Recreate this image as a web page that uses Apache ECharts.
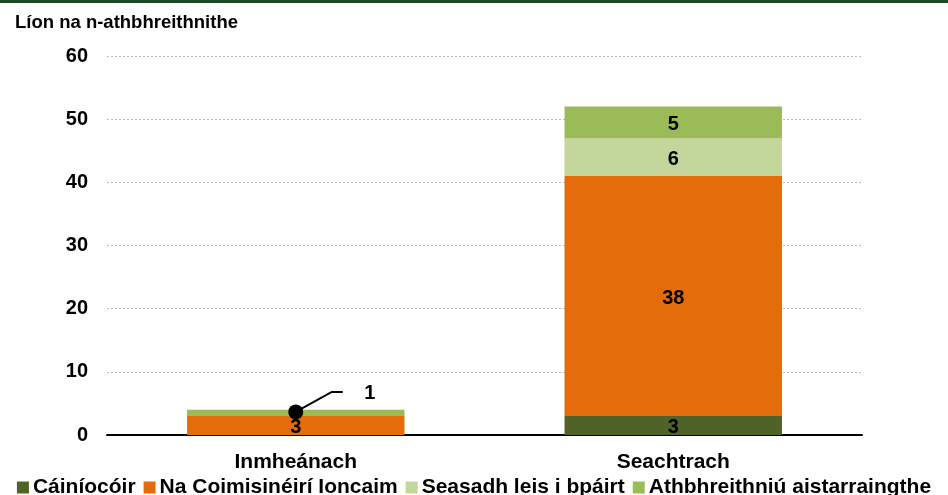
<!DOCTYPE html>
<html>
<head>
<meta charset="utf-8">
<script src="https://cdn.jsdelivr.net/npm/echarts@6/dist/echarts.min.js"></script>
<style>
  html, body { margin: 0; padding: 0; background: #fff; }
  #chart { width: 948px; height: 495px; }
</style>
</head>
<body>
<div id="chart"></div>
<script>
const categories = ['Inmheánach', 'Seachtrach']
const cainiocoir = [0, 3]
const ioncaim = [3, 38]
const seasadh = [0, 6]
const aistarraingthe = [1, 5]
const yTicks = [0, 10, 20, 30, 40, 50, 60]

const font = 'Arial, "Liberation Sans", sans-serif'

// zero-sized segments get no label
function segLabel(p) {
  return p.value ? String(p.value) : ''
}

const chart = echarts.init(document.getElementById('chart'))

function barSeries(name, data, color, fmt) {
  return {
    name: name,
    type: 'bar',
    stack: 'total',
    barWidth: '57.6%',
    data: data,
    itemStyle: { color: color },
    label: {
      show: true,
      position: 'inside',
      offset: [0, 2],
      formatter: fmt || segLabel,
      color: '#000',
      fontFamily: font,
      fontWeight: 'bold',
      fontSize: 20
    },
    emphasis: { disabled: true }
  }
}

// the small "1" on Inmheánach is drawn as a callout (dot + leader line)
const calloutData = [[0, ioncaim[0] + aistarraingthe[0] / 2, aistarraingthe[0]]]

chart.setOption({
  animation: false,
  graphic: [{
    type: 'rect',
    left: 0,
    top: 0,
    shape: { width: 948, height: 3 },
    style: { fill: '#1c4a24' }
  }],
  title: {
    text: 'Líon na n-athbhreithnithe',
    left: 10,
    top: 8,
    textStyle: { fontFamily: font, fontWeight: 'bold', fontSize: 18.5, color: '#000' }
  },
  legend: {
    top: 472,
    left: 'center',
    itemWidth: 12,
    itemHeight: 12,
    itemGap: 8,
    icon: 'rect',
    data: ['Cáiníocóir', 'Na Coimisinéirí Ioncaim', 'Seasadh leis i bpáirt', 'Athbhreithniú aistarraingthe'],
    textStyle: { fontFamily: font, fontWeight: 'bold', fontSize: 21, color: '#000', padding: [0, 0, 0, -1] }
  },
  grid: {
    top: 56,
    left: 107,
    right: 86,
    bottom: 60
  },
  xAxis: {
    type: 'category',
    data: categories,
    axisLine: { lineStyle: { color: '#000', width: 2 } },
    axisTick: { show: false },
    axisLabel: {
      color: '#000',
      fontFamily: font,
      fontWeight: 'bold',
      fontSize: 21,
      margin: 17
    }
  },
  yAxis: {
    type: 'value',
    min: yTicks[0],
    max: yTicks[yTicks.length - 1],
    interval: 10,
    axisLine: { show: false },
    axisTick: { show: false },
    axisLabel: {
      color: '#000',
      fontFamily: font,
      fontWeight: 'bold',
      fontSize: 20,
      margin: 19
    },
    splitLine: { lineStyle: { color: '#bcbcbc', type: [2, 2], width: 1 } }
  },
  series: [
    barSeries('Cáiníocóir', cainiocoir, '#4f6228'),
    barSeries('Na Coimisinéirí Ioncaim', ioncaim, '#e46c0a'),
    barSeries('Seasadh leis i bpáirt', seasadh, '#c3d69b'),
    barSeries('Athbhreithniú aistarraingthe', aistarraingthe, '#9bbb59',
      p => (p.dataIndex === 0 ? '' : String(p.value))),
    {
      type: 'custom',
      data: calloutData,
      z: 10,
      silent: true,
      renderItem: function (params, api) {
        const pt = api.coord([api.value(0), api.value(1)])
        const x = pt[0], y = pt[1] - 1
        return {
          type: 'group',
          children: [
            {
              type: 'polyline',
              shape: { points: [[x, y], [x + 36, y - 20], [x + 47, y - 20]] },
              style: { stroke: '#000', lineWidth: 2, fill: null }
            },
            {
              type: 'circle',
              shape: { cx: x, cy: y, r: 7.5 },
              style: { fill: '#000' }
            },
            {
              type: 'text',
              style: {
                x: x + 74,
                y: y - 18,
                text: String(api.value(2)),
                align: 'center',
                verticalAlign: 'middle',
                fill: '#000',
                font: 'bold 20px ' + font
              }
            }
          ]
        }
      }
    }
  ]
})
</script>
</body>
</html>
